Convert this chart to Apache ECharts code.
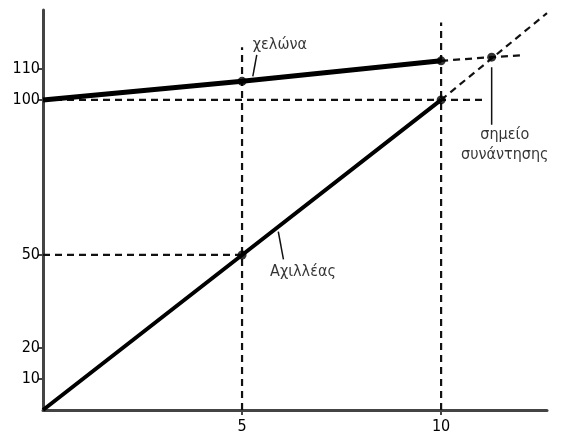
<!DOCTYPE html>
<html><head><meta charset="utf-8">
<script src="https://cdn.jsdelivr.net/npm/echarts@6/dist/echarts.min.js"></script>
<style>html,body{margin:0;padding:0;background:#fff}#c{width:575px;height:436px}</style>
</head><body><div id="c"></div>
<script>
// Data
const xTicks = [5, 10];
const yTicks = [10, 20, 50, 100, 110];
const achilles = [[0, 0], [5, 50], [10, 100]];
const achillesExt = [[10, 100], [12.66, 128]];
const turtle = [[0, 100], [5, 106], [10, 112.6]];
const turtleExt = [[10, 112.6], [11.27, 113.8], [12.06, 114.4]];
const meetingPoint = [[11.27, 113.8]];
const dots = [[5, 106], [10, 112.6], [5, 50], [10, 100]];
const guideH100 = [[0, 100], [11.1, 100]];
const guideH50 = [[0, 50], [5, 50]];
const guideV5 = [[5, 0], [5, 117]];
const guideV10 = [[10, 0], [10, 125]];
const meetArrow = [[11.27, 110.5], [11.27, 92]];
const turtleLeader = [[5.37, 114.5], [5.27, 107.6]];
const achillesLeader = [[5.91, 57.5], [6.04, 48.6]];
const textTurtle = [[5.95, 117.8]];
const textAchilles = [[6.53, 44.5]];
const textMeet = [[11.6, 85.5]];
const labels = { turtle: 'χελώνα', achilles: 'Αχιλλέας', meet: 'σημείο\nσυνάντησης' };

const FONT = "'Liberation Sans Narrow', 'DejaVu Sans Condensed', sans-serif";
const dashStyle = { color: '#111', width: 2.2, type: [7, 5] };
function seg(data, lineStyle, extra) {
  return Object.assign({ type: 'line', data: data, showSymbol: false, symbol: 'none', lineStyle: lineStyle, silent: true, z: 2 }, extra || {});
}
function txt(data, text) {
  return { type: 'scatter', data: data, symbolSize: 0, silent: true, z: 5,
    label: { show: true, position: 'inside', formatter: text, color: '#000', fontFamily: FONT, fontSize: 16, lineHeight: 20 } };
}
const chart = echarts.init(document.getElementById('c'));
chart.setOption({
  animation: false,
  grid: { left: 43, top: 10, right: 28, bottom: 26, containLabel: false },
  xAxis: { type: 'value', min: 0, max: 12.66, splitLine: { show: false },
    axisLine: { lineStyle: { color: '#444', width: 3 } },
    axisTick: { show: true, customValues: xTicks, length: 5, lineStyle: { color: '#444', width: 2 } },
    axisLabel: { customValues: xTicks, color: '#000', fontFamily: FONT, fontSize: 16, margin: 9 } },
  yAxis: { type: 'value', min: 0, max: 129, splitLine: { show: false },
    axisLine: { show: true, lineStyle: { color: '#444', width: 3 } },
    axisTick: { show: true, customValues: yTicks, length: 5, lineStyle: { color: '#444', width: 2 } },
    axisLabel: { customValues: yTicks, color: '#000', fontFamily: FONT, fontSize: 16, margin: 3 } },
  series: [
    seg(guideH100, dashStyle), seg(guideH50, dashStyle), seg(guideV5, dashStyle), seg(guideV10, dashStyle),
    seg(achillesExt, dashStyle), seg(turtleExt, dashStyle),
    seg(achilles, { color: '#000', width: 4 }, { z: 3 }),
    seg(turtle, { color: '#000', width: 5 }, { z: 3 }),
    seg(meetArrow, { color: '#111', width: 1.5 }, { z: 3 }),
    seg(turtleLeader, { color: '#111', width: 1.5 }, { z: 3 }),
    seg(achillesLeader, { color: '#111', width: 1.5 }, { z: 3 }),
    { type: 'scatter', data: dots.concat(meetingPoint), symbolSize: 9, itemStyle: { color: '#000' }, silent: true, z: 4 },
    txt(textTurtle, labels.turtle), txt(textAchilles, labels.achilles), txt(textMeet, labels.meet)
  ]
});
</script></body></html>
